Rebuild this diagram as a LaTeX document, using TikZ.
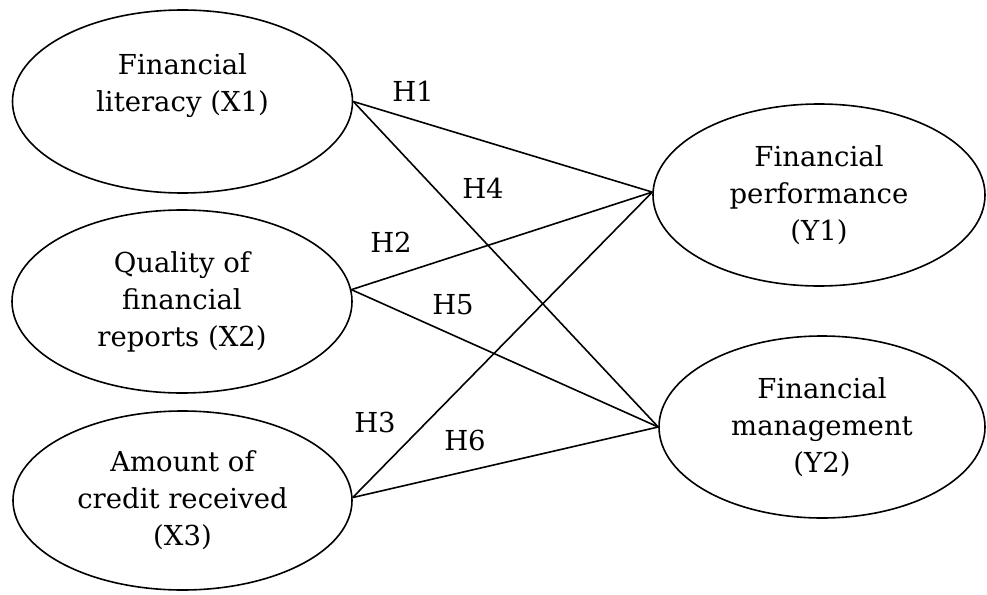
\documentclass[tikz,border=0pt]{standalone}
\usepackage{fontspec}
\setmainfont{DejaVu Serif}
\usetikzlibrary{shapes.geometric}
\begin{document}
\begin{tikzpicture}[x=1pt,y=-1pt,
  var/.style={ellipse,draw,line width=1.6pt,inner sep=0pt,align=center,
    font=\fontsize{27.5}{37}\selectfont},
  hyp/.style={inner sep=0pt,font=\fontsize{27.5}{37}\selectfont},
  link/.style={line width=1.6pt}]
\useasboundingbox (0,0) rectangle (987,594);
\node[var,minimum width=340pt,minimum height=183pt] (X1) at (182.5,101.5) {Financial\\literacy (X1)\\\mbox{}};
\node[var,minimum width=340pt,minimum height=183pt] (X2) at (182,301.5) {Quality of\\financial\\reports (X2)};
\node[var,minimum width=339pt,minimum height=179pt] (X3) at (182.5,500.5) {Amount of\\credit received\\(X3)};
\node[var,minimum width=332pt,minimum height=182pt] (Y1) at (819,195) {Financial\\performance\\(Y1)};
\node[var,minimum width=326pt,minimum height=182pt] (Y2) at (822,427) {Financial\\management\\(Y2)};
\draw[link] (X1.east) -- (Y1.179);
\draw[link] (X1.east) -- (Y2.west);
\draw[link] (X2.4.4) -- (Y1.179);
\draw[link] (X2.4.4) -- (Y2.west);
\draw[link] (X3.1.9) -- (Y1.179);
\draw[link] (X3.1.9) -- (Y2.west);
\node[hyp] (H1) at (413,91) {H1};
\node[hyp] (H4) at (483,188) {H4};
\node[hyp] (H2) at (391,242) {H2};
\node[hyp] (H5) at (453,305) {H5};
\node[hyp] (H3) at (375,422) {H3};
\node[hyp] (H6) at (465,440) {H6};
\end{tikzpicture}
\end{document}
